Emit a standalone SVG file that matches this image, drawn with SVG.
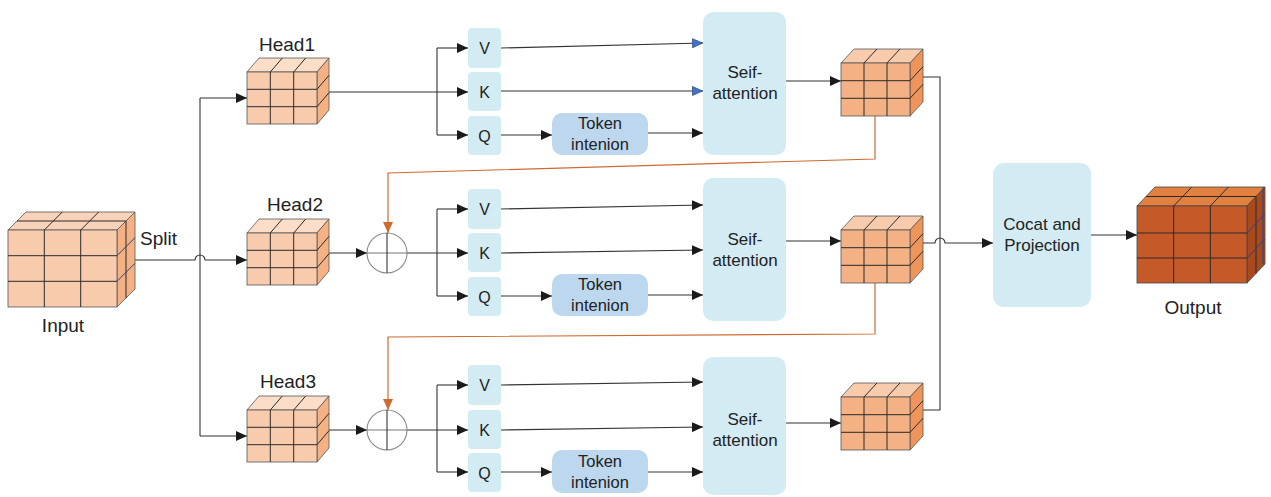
<svg xmlns="http://www.w3.org/2000/svg" xmlns:xlink="http://www.w3.org/1999/xlink" width="1271" height="497" viewBox="0 0 1271 497">
  <style>
    text { font-family: "Liberation Sans", Arial, sans-serif; fill: #222; }
    .lbl { font-size: 19px; }
    .head { font-size: 19px; text-anchor: middle; }
    .qkv { font-size: 16px; text-anchor: middle; }
    .tok { font-size: 16.5px; text-anchor: middle; }
    .att { font-size: 17px; text-anchor: middle; }
    .qkvbox { fill: #D3ECF3; }
    .tokbox { fill: #BDD7EE; }
    .attbox { fill: #D3ECF3; }
    .wire { fill: none; stroke: #333; stroke-width: 1.1; }
    .arr { marker-end: url(#ah); }
    .barr { marker-end: url(#ahb); }
    .fb { fill: none; stroke: #CF6A30; stroke-width: 1.2; marker-end: url(#aho); }
    .grid { fill: none; stroke: #2a2a2a; stroke-width: 1; }
    .navy { fill: none; stroke: #2F3F86; stroke-width: 1; }
    .sum { fill: #fff; stroke: #888; stroke-width: 1.1; }
  </style>
  <defs>
    <marker id="ah" markerUnits="userSpaceOnUse" markerWidth="11" markerHeight="10" refX="11" refY="5" orient="auto">
      <path d="M0,0 L11,5 L0,10 z" fill="#1a1a1a"/>
    </marker>
    <marker id="ahb" markerUnits="userSpaceOnUse" markerWidth="11" markerHeight="10" refX="11" refY="5" orient="auto">
      <path d="M0.5,0.5 L10.5,5 L0.5,9.5 z" fill="#4472C4" stroke="#2F4F8F" stroke-width="0.8"/>
    </marker>
    <marker id="aho" markerUnits="userSpaceOnUse" markerWidth="11" markerHeight="10" refX="11" refY="5" orient="auto">
      <path d="M0,0 L11,5 L0,10 z" fill="#CF6A30"/>
    </marker>

    <!-- 3x3 light block used for each head -->
    <g id="headCube">
      <polygon points="0,0 12,-14 82,-14 70,0" fill="#FBDDC8" stroke="#555" stroke-width="0.8"/>
      <polygon points="70,0 82,-14 82,38 70,52" fill="#F4B183" stroke="#555" stroke-width="0.8"/>
      <rect x="0" y="0" width="70" height="52" fill="#F8CBAD" stroke="#555" stroke-width="0.8"/>
      <path class="grid" d="M23.3,0V52 M46.7,0V52 M0,17.3H70 M0,34.7H70 M23.3,0l12,-14 M46.7,0l12,-14 M70,17.3l12,-14 M70,34.7l12,-14"/>
    </g>

    <!-- 3x3 block produced by self-attention -->
    <g id="attCube">
      <polygon points="0,0 13,-14 82,-14 69,0" fill="#F8CBAD" stroke="#555" stroke-width="0.8"/>
      <polygon points="69,0 82,-14 82,39 69,53" fill="#F0955A" stroke="#555" stroke-width="0.8"/>
      <rect x="0" y="0" width="69" height="53" fill="#F4B183" stroke="#555" stroke-width="0.8"/>
      <path class="grid" d="M23,0V53 M46,0V53 M0,17.7H69 M0,35.3H69 M23,0l13,-14 M46,0l13,-14 M69,17.7l13,-14 M69,35.3l13,-14"/>
    </g>
  </defs>

  <!-- connectors -->
  <g id="connectors">
    <!-- split into three heads -->
    <path class="wire" d="M135,260 H195 a5,5 0 0 1 10,0 H247" marker-end="url(#ah)"/>
    <path class="wire" d="M200,98 V436"/>
    <path class="wire arr" d="M200,98 H247"/>
    <path class="wire arr" d="M200,436 H247"/>

    <!-- head 1 branches -->
    <path class="wire arr" d="M329,92 H468"/>
    <path class="wire" d="M437,48 V135"/>
    <path class="wire arr" d="M437,48 H468"/>
    <path class="wire arr" d="M437,135 H468"/>
    <path class="wire barr" d="M501,48 L703,43"/>
    <path class="wire barr" d="M501,91 L703,91"/>
    <path class="wire arr" d="M501,135 H552"/>
    <path class="wire arr" d="M648,133 H703"/>
    <path class="wire arr" d="M786,81 H841"/>

    <!-- head 2 branches -->
    <path class="wire arr" d="M329,253 H367"/>
    <path class="wire arr" d="M407,253 H468"/>
    <path class="wire" d="M437,209 V296"/>
    <path class="wire arr" d="M437,209 H468"/>
    <path class="wire arr" d="M437,296 H468"/>
    <path class="wire arr" d="M501,209 L703,205"/>
    <path class="wire arr" d="M501,253 L703,250"/>
    <path class="wire arr" d="M501,296 H552"/>
    <path class="wire arr" d="M648,295 H703"/>
    <path class="wire arr" d="M786,241 H841"/>

    <!-- head 3 branches -->
    <path class="wire arr" d="M329,430 H367"/>
    <path class="wire arr" d="M407,430 H468"/>
    <path class="wire" d="M437,385 V472"/>
    <path class="wire arr" d="M437,385 H468"/>
    <path class="wire arr" d="M437,472 H468"/>
    <path class="wire arr" d="M501,385 L703,382"/>
    <path class="wire arr" d="M501,430 L703,427"/>
    <path class="wire arr" d="M501,472 H552"/>
    <path class="wire arr" d="M648,472 H703"/>
    <path class="wire arr" d="M786,423 H841"/>

    <!-- feedback from previous head output -->
    <path class="fb" d="M875,116 V159 L388,173 V233"/>
    <path class="fb" d="M875,283 V334 L388,337 V410"/>

    <!-- gather head outputs -->
    <path class="wire" d="M923,77 H940 V410 H923"/>
    <path class="wire arr" d="M923,243 H935 a5,5 0 0 1 10,0 H993"/>
    <path class="wire arr" d="M1091,235 H1137"/>
  </g>

  <!-- input -->
  <g id="input">
    <polygon points="8,230 26,212 135,212 117,230" fill="#F9D3B9" stroke="#555" stroke-width="0.8"/>
    <polygon points="117,230 135,212 135,289 117,307" fill="#F4B183" stroke="#555" stroke-width="0.8"/>
    <rect x="8" y="230" width="109" height="77" fill="#F8CBAD" stroke="#555" stroke-width="0.8"/>
    <path class="grid" d="M44.3,230V307 M80.7,230V307 M8,255.7H117 M8,281.3H117 M44.3,230l18,-18 M80.7,230l18,-18 M17,221H126 M126,221V298"/>
    <path class="navy" d="M117,255.7l18,-18 M117,281.3l18,-18"/>
    <text class="lbl" x="63" y="332" text-anchor="middle">Input</text>
    <text class="lbl" x="140" y="245">Split</text>
  </g>

  <!-- heads -->
  <g id="head1">
    <text class="head" x="287" y="51">Head1</text>
    <use xlink:href="#headCube" x="247" y="72"/>
  </g>
  <g id="head2">
    <text class="head" x="295" y="211">Head2</text>
    <use xlink:href="#headCube" x="247" y="233"/>
  </g>
  <g id="head3">
    <text class="head" x="288" y="388">Head3</text>
    <use xlink:href="#headCube" x="247" y="410"/>
  </g>

  <!-- feature fusion -->
  <g id="sum2">
    <circle class="sum" cx="387" cy="253" r="20"/>
    <path d="M367,253H407" stroke="#777" stroke-width="1"/>
    <path d="M387,233V273" stroke="#222" stroke-width="1"/>
  </g>
  <g id="sum3">
    <circle class="sum" cx="387" cy="430" r="20"/>
    <path d="M367,430H407" stroke="#777" stroke-width="1"/>
    <path d="M387,410V450" stroke="#222" stroke-width="1"/>
  </g>

  <!-- Q/K/V projections, head 1 -->
  <g id="v1"><rect class="qkvbox" x="468" y="28" width="33" height="40" rx="4"/><text class="qkv" x="484.5" y="54">V</text></g>
  <g id="k1"><rect class="qkvbox" x="468" y="72" width="33" height="39" rx="4"/><text class="qkv" x="484.5" y="97.5">K</text></g>
  <g id="q1"><rect class="qkvbox" x="468" y="116" width="33" height="39" rx="4"/><text class="qkv" x="484.5" y="141.5">Q</text></g>
  <g id="token1"><rect class="tokbox" x="552" y="113" width="96" height="42" rx="10"/><text class="tok" x="600" y="129">Token</text><text class="tok" x="600" y="149.5">intenion</text></g>
  <g id="attn1"><rect class="attbox" x="703" y="12" width="83" height="143" rx="10"/><text class="att" x="745" y="78">Seif-</text><text class="att" x="745" y="98.5">attention</text></g>
  <g id="out1"><use xlink:href="#attCube" x="841" y="63"/></g>

  <!-- Q/K/V projections, head 2 -->
  <g id="v2"><rect class="qkvbox" x="468" y="189" width="33" height="40" rx="4"/><text class="qkv" x="484.5" y="215">V</text></g>
  <g id="k2"><rect class="qkvbox" x="468" y="233" width="33" height="39" rx="4"/><text class="qkv" x="484.5" y="258.5">K</text></g>
  <g id="q2"><rect class="qkvbox" x="468" y="277" width="33" height="39" rx="4"/><text class="qkv" x="484.5" y="302.5">Q</text></g>
  <g id="token2"><rect class="tokbox" x="552" y="274" width="96" height="42" rx="10"/><text class="tok" x="600" y="290">Token</text><text class="tok" x="600" y="310.5">intenion</text></g>
  <g id="attn2"><rect class="attbox" x="703" y="178" width="83" height="143" rx="10"/><text class="att" x="745" y="245">Seif-</text><text class="att" x="745" y="265.5">attention</text></g>
  <g id="out2"><use xlink:href="#attCube" x="841" y="230"/></g>

  <!-- Q/K/V projections, head 3 -->
  <g id="v3"><rect class="qkvbox" x="468" y="365" width="33" height="40" rx="4"/><text class="qkv" x="484.5" y="391">V</text></g>
  <g id="k3"><rect class="qkvbox" x="468" y="410" width="33" height="39" rx="4"/><text class="qkv" x="484.5" y="435.5">K</text></g>
  <g id="q3"><rect class="qkvbox" x="468" y="453" width="33" height="39" rx="4"/><text class="qkv" x="484.5" y="478.5">Q</text></g>
  <g id="token3"><rect class="tokbox" x="552" y="450" width="96" height="43" rx="10"/><text class="tok" x="600" y="467">Token</text><text class="tok" x="600" y="487.5">intenion</text></g>
  <g id="attn3"><rect class="attbox" x="703" y="357" width="83" height="138" rx="10"/><text class="att" x="745" y="425">Seif-</text><text class="att" x="745" y="445.5">attention</text></g>
  <g id="out3"><use xlink:href="#attCube" x="841" y="397"/></g>

  <!-- concat and projection -->
  <g id="concat">
    <rect class="attbox" x="993" y="163" width="98" height="144" rx="11"/>
    <text class="att" x="1042" y="230">Cocat and</text>
    <text class="att" x="1042" y="251">Projection</text>
  </g>

  <!-- output -->
  <g id="output">
    <polygon points="1137,206 1155,187 1265,187 1247,206" fill="#E2813F" stroke="#444" stroke-width="0.8"/>
    <polygon points="1247,206 1265,187 1265,264 1247,283" fill="#A84A1E" stroke="#444" stroke-width="0.8"/>
    <rect x="1137" y="206" width="110" height="77" fill="#C55A28" stroke="#444" stroke-width="0.8"/>
    <path class="grid" d="M1173.7,206V283 M1210.3,206V283 M1137,233H1247 M1137,258H1247 M1173.7,206l18,-19 M1210.3,206l18,-19 M1146,196.5H1256 M1256,196.5V273.5"/>
    <path class="navy" d="M1247,233l18,-19 M1247,258l18,-19 M1263,187V264"/>
    <text class="lbl" x="1193" y="314" text-anchor="middle">Output</text>
  </g>
</svg>
